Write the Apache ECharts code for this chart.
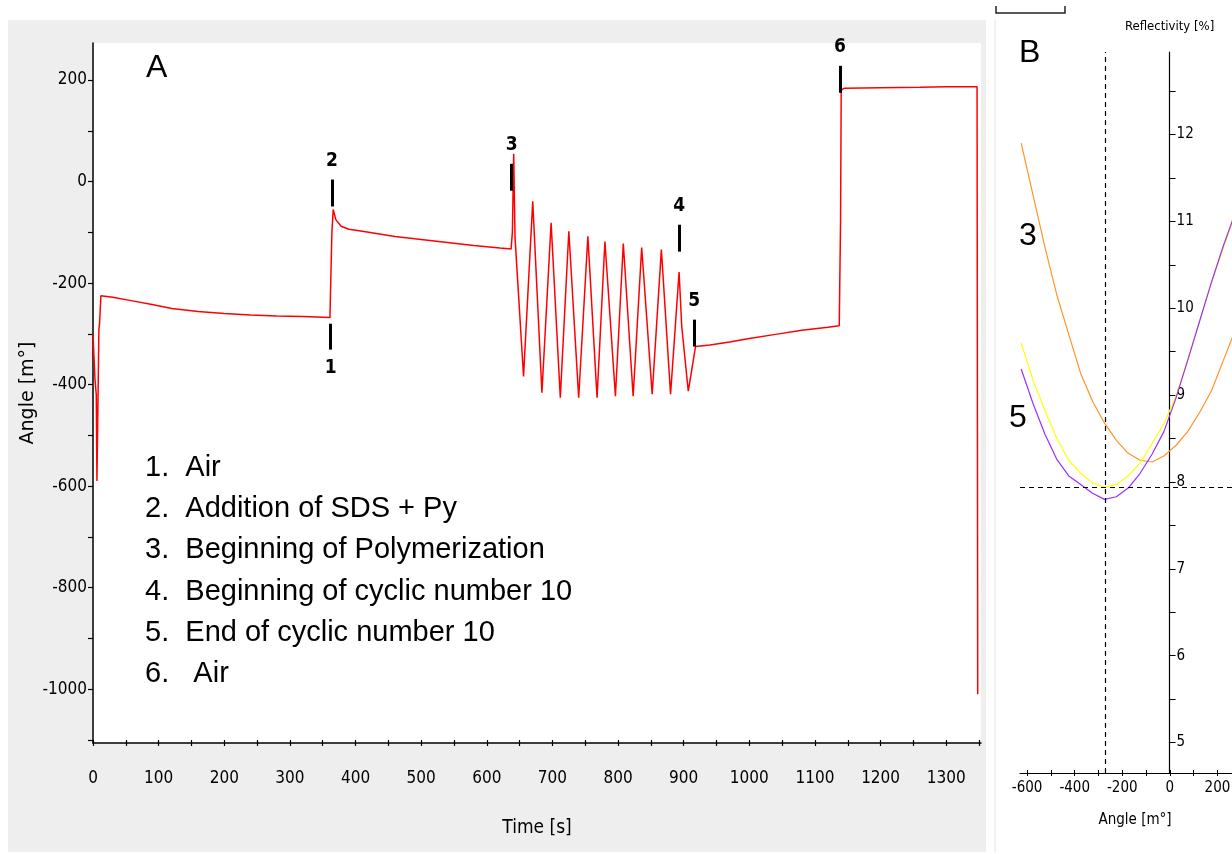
<!DOCTYPE html>
<html>
<head>
<meta charset="utf-8">
<script src="https://cdn.jsdelivr.net/npm/echarts@6/dist/echarts.min.js"></script>
<style>
  html, body { margin: 0; padding: 0; background: #fff; }
  #chart { width: 1232px; height: 854px; }
</style>
</head>
<body>
<div id="chart"></div>
<script>
// ---- Panel A : sensorgram (angle vs time) ----
const timeS = [0, 3, 5, 6, 8, 9, 10, 12, 30, 60, 90, 120, 160, 200, 240, 280, 320, 361,
  363, 364, 366, 370, 378, 390, 420, 460, 500, 540, 580, 620, 637,
  639, 641, 643, 656, 670, 684, 698, 712, 725, 740, 754, 768, 780, 796, 808, 823, 836, 852,
  866, 880, 893, 897, 907, 918, 940, 970, 1000, 1040, 1080, 1120, 1137,
  1139, 1140, 1145, 1200, 1260, 1300, 1347, 1348];
const angleA = [-300, -390, -420, -590, -590, -290, -280, -225, -228, -235, -242, -250, -256, -260, -263, -265, -266, -268,
  -268, -100, -55, -75, -88, -94, -100, -108, -114, -120, -126, -131, -133,
  -100, 55, -110, -384, -39, -416, -81, -426, -98, -426, -108, -426, -118, -423, -122, -423, -130, -419,
  -134, -419, -178, -285, -413, -325, -322, -316, -309, -301, -293, -287, -284,
  -80, 180, 184, 185, 186, 187, 187, -1010];

// event markers (number, time, line from -> to, label at the "to" end)
const markerNum = ["1", "2", "3", "4", "5", "6"];
const markerT = [362, 364, 638, 893, 916, 1138];
const markerFrom = [-280, -49, -18, -138, -325, 175];
const markerTo = [-331, 4, 35, -85, -272, 228];

const aTicksX = [];
for (let v = 0; v <= 1350; v += 50) aTicksX.push(v);
const aLabelsX = [0, 100, 200, 300, 400, 500, 600, 700, 800, 900, 1000, 1100, 1200, 1300];
const aTicksY = [-1100, -1000, -900, -800, -700, -600, -500, -400, -300, -200, -100, 0, 100, 200];
const aLabelsY = [-1000, -800, -600, -400, -200, 0, 200];

const legendLines = [
  "1.  Air",
  "2.  Addition of SDS + Py",
  "3.  Beginning of Polymerization",
  "4.  Beginning of cyclic number 10",
  "5.  End of cyclic number 10",
  "6.   Air"
];

// ---- Panel B : reflectivity vs angle ----
const angleB = [-625, -575, -525, -475, -425, -375, -325, -275, -225, -175, -125, -75, -25, 25, 75, 125, 175, 225, 275];
const reflOrange = [11.9, 11.3, 10.7, 10.15, 9.7, 9.25, 8.93, 8.68, 8.48, 8.33, 8.25, 8.23, 8.3, 8.42, 8.58, 8.8, 9.05, 9.4, 9.75];
const reflYellow = [9.6, 9.17, 8.82, 8.5, 8.25, 8.1, 7.99, 7.94, 7.97, 8.07, 8.22, 8.44, 8.67, 8.98, 9.41, 9.85, 10.3, 10.7, 11.08];
const reflPurple = [9.3, 8.9, 8.55, 8.26, 8.07, 7.97, 7.87, 7.8, 7.83, 7.93, 8.1, 8.32, 8.58, 8.96, 9.4, 9.85, 10.3, 10.72, 11.1];
const cursorAngle = -270;
const cursorRefl = 7.94;

const bTicksX = [-600, -500, -400, -300, -200, -100, 0, 100, 200, 300, 400];
const bLabelsX = [-600, -400, -200, 0, 200, 400];
const bTicksY = [5, 5.5, 6, 6.5, 7, 7.5, 8, 8.5, 9, 9.5, 10, 10.5, 11, 11.5, 12, 12.5];
const bLabelsY = [5, 6, 7, 8, 9, 10, 11, 12];

const NARROW = "'Liberation Sans Narrow', 'DejaVu Sans Condensed', 'Roboto', sans-serif";
const SANS = "'Liberation Sans', Arial, sans-serif";
const plain = (v) => String(v);

document.addEventListener("DOMContentLoaded", () => {
  const chart = echarts.init(document.getElementById("chart"));

  const pairs = (xs, ys) => xs.map((x, i) => [x, ys[i]]);

  const markerLines = markerNum.map((n, i) => [
    { coord: [markerT[i], markerFrom[i]] },
    { coord: [markerT[i], markerTo[i]], label: { formatter: n } }
  ]);

  chart.setOption({
    animation: false,
    backgroundColor: "#fff",
    graphic: [
      { type: "rect", z: -10, shape: { x: 8, y: 20, width: 978, height: 832 }, style: { fill: "#eeeeee" } },
      { type: "line", shape: { x1: 995, y1: 20, x2: 995, y2: 852 }, style: { stroke: "#e4e4e4", lineWidth: 1 } },
      { type: "polyline", shape: { points: [[996, 6], [996, 13], [1065, 13], [1065, 6]] }, style: { stroke: "#222", lineWidth: 1.5, fill: null } },
      { type: "text", x: 146, y: 68, style: { text: "A", font: "32px " + SANS, fill: "#000", textVerticalAlign: "middle" } },
      { type: "text", x: 1019, y: 53, style: { text: "B", font: "32px " + SANS, fill: "#000", textVerticalAlign: "middle" } },
      { type: "text", x: 1019, y: 236, style: { text: "3", font: "32px " + SANS, fill: "#000", textVerticalAlign: "middle" } },
      { type: "text", x: 1009, y: 418, style: { text: "5", font: "32px " + SANS, fill: "#000", textVerticalAlign: "middle" } },
      { type: "text", x: 1135, y: 820, style: { text: "Angle [m°]", font: "15px " + NARROW, fill: "#000", textAlign: "center", textVerticalAlign: "middle" } },
      ...legendLines.map((t, i) => ({
        type: "text", x: 145, y: 468 + i * 41.2,
        style: { text: t, font: "29px " + SANS, fill: "#000", textVerticalAlign: "middle" }
      }))
    ],
    grid: [
      { left: 93, top: 43, width: 888, height: 700, show: true, backgroundColor: "#fff", borderWidth: 0, outerBoundsMode: "none" },
      { left: 93, top: 43, width: 888, height: 700, outerBoundsMode: "none" },
      { left: 1020, top: 52, width: 245, height: 721, outerBoundsMode: "none" },
      { left: 1020, top: 52, width: 245, height: 721, outerBoundsMode: "none" }
    ],
    xAxis: [
      {
        gridIndex: 0, type: "value", min: 0, max: 1353,
        name: "Time [s]", nameLocation: "middle", nameGap: 76,
        nameTextStyle: { fontFamily: NARROW, fontSize: 19, color: "#000" },
        axisLine: { onZero: false, lineStyle: { color: "#000", width: 1.5 } },
        axisTick: { customValues: aTicksX, length: 3, lineStyle: { color: "#000", width: 1.2 } },
        axisLabel: { customValues: aLabelsX, formatter: plain, margin: 27, fontFamily: NARROW, fontSize: 17, color: "#000" },
        splitLine: { show: false }
      },
      {
        gridIndex: 1, type: "value", min: 0, max: 1353,
        axisLine: { show: false, onZero: false },
        axisTick: { customValues: aTicksX, inside: true, length: 3, lineStyle: { color: "#000", width: 1.2 } },
        axisLabel: { show: false }, splitLine: { show: false }
      },
      {
        gridIndex: 2, type: "value", min: -630, max: 400,
        axisLine: { onZero: false, lineStyle: { color: "#000", width: 1.2 } },
        axisTick: { customValues: bTicksX, length: 3, lineStyle: { color: "#000", width: 1 } },
        axisLabel: { customValues: bLabelsX, formatter: plain, margin: 8, fontFamily: NARROW, fontSize: 15, color: "#000" },
        splitLine: { show: false }
      },
      {
        gridIndex: 3, type: "value", min: -630, max: 400,
        axisLine: { show: false, onZero: false },
        axisTick: { customValues: bTicksX, inside: true, length: 3, lineStyle: { color: "#000", width: 1 } },
        axisLabel: { show: false }, splitLine: { show: false }
      }
    ],
    yAxis: [
      {
        gridIndex: 0, type: "value", min: -1106, max: 273,
        name: "Angle [m°]", nameLocation: "middle", nameGap: 55, nameRotate: 90, nameMoveOverlap: false,
        nameTextStyle: { fontFamily: "'DejaVu Sans', sans-serif", fontSize: 19, color: "#000" },
        axisLine: { onZero: false, lineStyle: { color: "#000", width: 1.5 } },
        axisTick: { customValues: aTicksY, length: 5, lineStyle: { color: "#000", width: 1.2 } },
        axisLabel: { customValues: aLabelsY, formatter: plain, margin: 6, fontFamily: NARROW, fontSize: 17, color: "#000" },
        splitLine: { show: false }
      },
      { gridIndex: 1, type: "value", min: -1106, max: 273, show: false },
      {
        gridIndex: 2, type: "value", min: 4.65, max: 12.95, offset: -149.6,
        name: "Reflectivity [%]", nameLocation: "end", nameGap: 19,
        nameTextStyle: { fontFamily: NARROW, fontSize: 13, color: "#000", align: "center" },
        axisLine: { onZero: false, lineStyle: { color: "#000", width: 1.2 } },
        axisTick: { customValues: bTicksY, inside: true, length: 6, lineStyle: { color: "#000", width: 1 } },
        axisLabel: { customValues: bLabelsY, formatter: plain, inside: true, margin: 7, fontFamily: NARROW, fontSize: 15, color: "#000" },
        splitLine: { show: false }
      },
      { gridIndex: 3, type: "value", min: 4.65, max: 12.95, show: false }
    ],
    series: [
      {
        type: "line", xAxisIndex: 0, yAxisIndex: 0,
        data: pairs(timeS, angleA),
        symbol: "none",
        lineStyle: { color: "#ff0000", width: 1.5 },
        markLine: {
          silent: true, symbol: ["none", "none"],
          lineStyle: { color: "#000", width: 3, type: "solid" },
          label: { show: true, position: "end", distance: 9, color: "#000", fontWeight: "bold", fontFamily: NARROW, fontSize: 19 },
          data: markerLines
        }
      },
      {
        type: "line", xAxisIndex: 2, yAxisIndex: 2,
        data: pairs(angleB, reflOrange),
        symbol: "none", lineStyle: { color: "#ff9428", width: 1.2 }
      },
      {
        type: "line", xAxisIndex: 2, yAxisIndex: 2,
        data: pairs(angleB, reflYellow),
        symbol: "none", lineStyle: { color: "#ffff00", width: 1.2 },
        markLine: {
          silent: true, symbol: ["none", "none"],
          lineStyle: { color: "#000", width: 1.2, type: [5, 4] },
          label: { show: false },
          data: [{ xAxis: cursorAngle }, { yAxis: cursorRefl }]
        }
      },
      {
        type: "line", xAxisIndex: 2, yAxisIndex: 2,
        data: pairs(angleB, reflPurple),
        symbol: "none", lineStyle: { color: "#9b30ff", width: 1.2 }
      }
    ]
  });

  window.addEventListener("resize", () => chart.resize());
});
</script>
</body>
</html>
